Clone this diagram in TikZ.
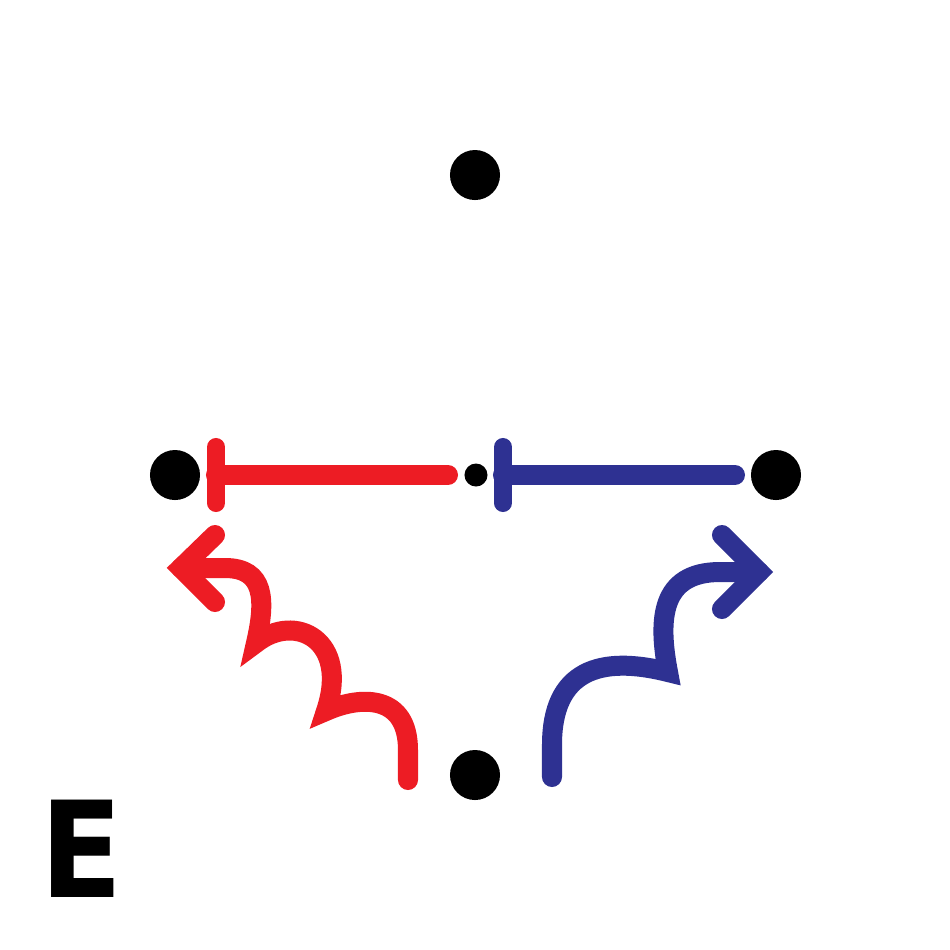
\documentclass[tikz,border=0pt]{standalone}
\usepackage{fontspec}
\newfontfamily\letterfont{DejaVu Sans}
\definecolor{myred}{HTML}{ED1C24}
\definecolor{myblue}{HTML}{2E3192}
\tikzset{
  dot/.style={circle, fill=black, inner sep=0pt, minimum size=5mm},
  smalldot/.style={circle, fill=black, inner sep=0pt, minimum size=2.3mm},
  barline/.style={line width=2mm, line cap=round},
  tbar/.style={line width=1.8mm, line cap=round},
  wave/.style={line width=2mm, line cap=round, line join=miter, miter limit=30},
  chevron/.style={line width=2mm, line cap=round, line join=miter, miter limit=30},
}
\begin{document}
\begin{tikzpicture}[x=0.01cm, y=-0.01cm]
\useasboundingbox (0,0) rectangle (950,950);
\fill[white] (0,0) rectangle (950,950);
% dots
\node[dot] (T) at (475,175) {};
\node[dot] (L) at (175,475) {};
\node[dot] (R) at (776,475) {};
\node[dot] (B) at (475,775) {};
\node[smalldot] (C) at (476,475) {};
% endpoints
\coordinate (rs) at (448,475);
\coordinate (re) at (216,475);
\coordinate (bs) at (735,475);
\coordinate (be) at (503,475);
% red T-bar
\draw[barline, myred] (rs) -- (re);
\draw[tbar, myred] ([yshift=2.8mm]re) -- ([yshift=-2.8mm]re);
% blue T-bar
\draw[barline, myblue] (bs) -- (be);
\draw[tbar, myblue] ([yshift=2.8mm]be) -- ([yshift=-2.8mm]be);
% red wavy arrow
\coordinate (rws) at (408,780);
\coordinate (rwe) at (181,568);
\draw[wave, myred] (rws) -- (408,750)
  .. controls (408,695) and (362,695) .. (326,711)
  .. controls (350,640) and (295,612) .. (256,643)
  .. controls (266,600) and (265,568) .. (225,568) -- (rwe);
\draw[chevron, myred] (215,535) -- (rwe) -- (215,602);
% blue wavy arrow
\coordinate (bws) at (552,777);
\coordinate (bwe) at (759,572);
\draw[wave, myblue] (bws) -- (552,745)
  .. controls (552,670) and (600,655) .. (668,672)
  .. controls (658,620) and (660,572) .. (720,572) -- (bwe);
\draw[chevron, myblue] (722,535) -- (bwe) -- (722,609);
% letter
\node[inner sep=0pt, xscale=0.9] (lbl) at (81.5,849) {\letterfont\bfseries\fontsize{38pt}{40pt}\selectfont E};
\end{tikzpicture}
\end{document}
